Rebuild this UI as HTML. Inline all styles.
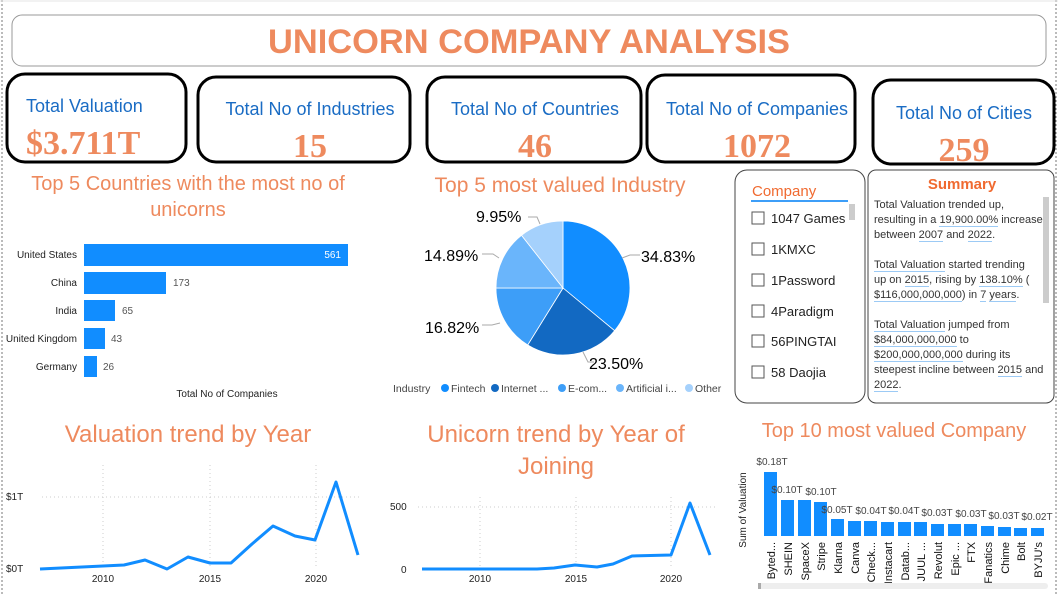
<!DOCTYPE html>
<html><head><meta charset="utf-8"><style>
body{margin:0;background:#fff;width:1058px;height:594px;overflow:hidden;position:relative;font-family:"Liberation Sans",sans-serif}
.abs{position:absolute}
.sum{left:874px;top:198px;width:170px;font-size:11px;line-height:15px;color:#333}
.sum div{height:15px;white-space:nowrap}
.u{border-bottom:1.5px solid #9ccaf5}
</style></head><body>
<svg class="abs" style="left:0;top:0" width="1058" height="594" viewBox="0 0 1058 594" font-family="Liberation Sans, sans-serif">
<line x1="2" y1="0" x2="2" y2="594" stroke="#777" stroke-dasharray="2,2"/>
<line x1="1056" y1="0" x2="1056" y2="594" stroke="#777" stroke-dasharray="2,2"/>
<line x1="0" y1="1" x2="1058" y2="1" stroke="#e6e6e6"/>
<rect x="12" y="15" width="1034" height="51" rx="10" fill="#fff" stroke="#999"/>
<text x="529" y="53" text-anchor="middle" font-size="34" font-weight="bold" fill="#EE8A5E" textLength="522" lengthAdjust="spacingAndGlyphs">UNICORN COMPANY ANALYSIS</text>
<g fill="#fff" stroke="#000" stroke-width="3">
<rect x="7" y="74" width="179" height="88" rx="18"/>
<rect x="198" y="77" width="212" height="85" rx="18"/>
<rect x="427" y="77" width="214" height="85" rx="18"/>
<rect x="647" y="75" width="208" height="87" rx="18"/>
<rect x="873" y="80" width="181" height="84" rx="18"/>
</g>
<g font-size="18" fill="#1A6CC4">
<text x="26" y="112">Total Valuation</text>
<text x="310" y="115" text-anchor="middle">Total No of Industries</text>
<text x="535" y="115" text-anchor="middle">Total No of Countries</text>
<text x="757" y="115" text-anchor="middle">Total No of Companies</text>
<text x="964" y="119" text-anchor="middle">Total No of Cities</text>
</g>
<g font-size="34" fill="#EE8A5E" font-family="Liberation Serif, serif" font-weight="bold">
<text x="26" y="154">$3.711T</text>
<text x="310" y="157" text-anchor="middle">15</text>
<text x="535" y="157" text-anchor="middle">46</text>
<text x="757" y="157" text-anchor="middle">1072</text>
<text x="964" y="161" text-anchor="middle">259</text>
</g>
<g font-size="20" fill="#EE8A5E" text-anchor="middle">
<text x="188" y="190">Top 5 Countries with the most no of</text>
<text x="188" y="216">unicorns</text>
<text x="560" y="192" font-size="21">Top 5 most valued Industry</text>
<text x="188" y="442" font-size="24">Valuation trend by Year</text>
<text x="556" y="442" font-size="24">Unicorn trend by Year of</text>
<text x="556" y="474" font-size="24">Joining</text>
<text x="894" y="437">Top 10 most valued Company</text>
</g>
<g fill="#118DFF">
<rect x="84" y="244" width="264" height="22"/>
<rect x="84" y="272" width="82" height="22"/>
<rect x="84" y="300" width="31" height="21"/>
<rect x="84" y="328" width="21" height="21"/>
<rect x="84" y="356" width="13" height="21"/>
</g>
<g font-size="10" fill="#222" text-anchor="end">
<text x="77" y="258">United States</text><text x="77" y="286">China</text><text x="77" y="314">India</text><text x="77" y="342">United Kingdom</text><text x="77" y="370">Germany</text>
</g>
<text x="341" y="258" font-size="10" fill="#fff" text-anchor="end">561</text>
<g font-size="10" fill="#555"><text x="173" y="286">173</text><text x="122" y="314">65</text><text x="111" y="342">43</text><text x="103" y="370">26</text></g>
<text x="227" y="397" font-size="10" fill="#222" text-anchor="middle">Total No of Companies</text>
<g stroke="#fff" stroke-width="0.8">
<path d="M563,288 L563,221 A67,67 0 0 1 614.6,330.7 Z" fill="#118DFF"/>
<path d="M563,288 L614.6,330.7 A67,67 0 0 1 527.7,345 Z" fill="#1269C2"/>
<path d="M563,288 L527.7,345 A67,67 0 0 1 496,288 Z" fill="#3D9EF8"/>
<path d="M563,288 L496,288 A67,67 0 0 1 521.5,235.3 Z" fill="#6AB5FB"/>
<path d="M563,288 L521.5,235.3 A67,67 0 0 1 563,221 Z" fill="#A5D1FC"/>
</g>
<g stroke="#aaa" fill="none"><path d="M622,258 L630,255 L640,255"/><path d="M583,352 L588,362 L594,362"/><path d="M500,323 L492,325 L482,325"/><path d="M499,258 L493,254 L482,254"/><path d="M540,224 L537,217 L528,217"/></g>
<g font-size="16" fill="#000">
<text x="641" y="262">34.83%</text><text x="589" y="369">23.50%</text><text x="425" y="333">16.82%</text><text x="424" y="261">14.89%</text><text x="476" y="222">9.95%</text>
</g>
<g font-size="10.5" fill="#444">
<text x="393" y="392">Industry</text>
<circle cx="445" cy="388" r="4" fill="#118DFF"/><text x="451" y="392">Fintech</text>
<circle cx="495" cy="388" r="4" fill="#1269C2"/><text x="501" y="392">Internet ...</text>
<circle cx="562" cy="388" r="4" fill="#3D9EF8"/><text x="568" y="392">E-com...</text>
<circle cx="620" cy="388" r="4" fill="#6AB5FB"/><text x="626" y="392">Artificial i...</text>
<circle cx="689" cy="388" r="4" fill="#A5D1FC"/><text x="695" y="392">Other</text>
</g>
<rect x="735" y="170" width="130" height="233" rx="12" fill="#fff" stroke="#444"/>
<rect x="868" y="170" width="186" height="233" rx="8" fill="#fff" stroke="#444"/>
<text x="752" y="196" font-size="15" fill="#F06A30">Company</text>
<line x1="751" y1="201" x2="848" y2="201" stroke="#3D9EF8" stroke-width="2"/>
<rect x="849" y="204" width="6" height="16" fill="#ccc"/>
<g fill="#fff" stroke="#555"><rect x="752" y="212" width="12" height="12"/><rect x="752" y="243" width="12" height="12"/><rect x="752" y="274" width="12" height="12"/><rect x="752" y="305" width="12" height="12"/><rect x="752" y="335" width="12" height="12"/><rect x="752" y="366" width="12" height="12"/></g>
<g font-size="13" fill="#222"><text x="771" y="223">1047 Games</text><text x="771" y="254">1KMXC</text><text x="771" y="285">1Password</text><text x="771" y="316">4Paradigm</text><text x="771" y="346">56PINGTAI</text><text x="771" y="377">58 Daojia</text></g>
<text x="962" y="189" font-size="15" font-weight="bold" fill="#F06A30" text-anchor="middle">Summary</text>
<rect x="1043" y="197" width="6" height="106" fill="#ccc"/>
<g stroke="#ccc" stroke-dasharray="1,3"><line x1="42" y1="497" x2="360" y2="497"/><line x1="103" y1="465" x2="103" y2="568"/><line x1="210" y1="465" x2="210" y2="568"/><line x1="316" y1="465" x2="316" y2="568"/>
<line x1="418" y1="507" x2="718" y2="507"/><line x1="480" y1="497" x2="480" y2="569"/><line x1="576" y1="497" x2="576" y2="569"/><line x1="671" y1="497" x2="671" y2="569"/></g>
<g font-size="10" fill="#222">
<text x="6" y="500">$1T</text><text x="6" y="572">$0T</text>
<text x="103" y="582" text-anchor="middle">2010</text><text x="210" y="582" text-anchor="middle">2015</text><text x="316" y="582" text-anchor="middle">2020</text>
<text x="390" y="510">500</text><text x="401" y="573">0</text>
<text x="480" y="582" text-anchor="middle">2010</text><text x="576" y="582" text-anchor="middle">2015</text><text x="671" y="582" text-anchor="middle">2020</text>
</g>
<polyline fill="none" stroke="#118DFF" stroke-width="3" stroke-linejoin="round" points="40,569 124,565 145,560 167,569 188,557 210,563 231,563 252,544 273,526 295,536 315,540 336,482 358,555"/>
<polyline fill="none" stroke="#118DFF" stroke-width="3" stroke-linejoin="round" points="422,569 537,569 554,568 575,565 597,567 613,564 632,556 671,555 690,503 710,555"/>
<g fill="#118DFF">
<rect x="764" y="472" width="13" height="64"/><rect x="781" y="500" width="13" height="36"/><rect x="798" y="500" width="13" height="36"/><rect x="814" y="502" width="13" height="34"/><rect x="831" y="519" width="13" height="17"/><rect x="848" y="521" width="13" height="15"/><rect x="864" y="521" width="13" height="15"/><rect x="881" y="522" width="13" height="14"/><rect x="898" y="522" width="13" height="14"/><rect x="914" y="522" width="13" height="14"/><rect x="931" y="524" width="13" height="12"/><rect x="948" y="524" width="13" height="12"/><rect x="964" y="524" width="13" height="12"/><rect x="981" y="526" width="13" height="10"/><rect x="998" y="527" width="13" height="9"/><rect x="1014" y="528" width="13" height="8"/><rect x="1031" y="528" width="13" height="8"/>
</g>
<g font-size="10" fill="#444" text-anchor="middle">
<text x="772" y="465">$0.18T</text><text x="787" y="493">$0.10T</text><text x="821" y="495">$0.10T</text><text x="837" y="513">$0.05T</text><text x="871" y="514">$0.04T</text><text x="904" y="514">$0.04T</text><text x="937" y="516">$0.03T</text><text x="971" y="517">$0.03T</text><text x="1004" y="519">$0.03T</text><text x="1037" y="520">$0.02T</text>
</g>
<text transform="translate(746,510) rotate(-90)" font-size="10" fill="#222" text-anchor="middle">Sum of Valuation</text>
<g font-size="11" fill="#111" text-anchor="end">
<text transform="translate(775,542) rotate(-90)">Byted...</text><text transform="translate(792,542) rotate(-90)">SHEIN</text><text transform="translate(809,542) rotate(-90)">SpaceX</text><text transform="translate(825,542) rotate(-90)">Stripe</text><text transform="translate(842,542) rotate(-90)">Klarna</text><text transform="translate(859,542) rotate(-90)">Canva</text><text transform="translate(875,542) rotate(-90)">Check...</text><text transform="translate(892,542) rotate(-90)">Instacart</text><text transform="translate(909,542) rotate(-90)">Datab...</text><text transform="translate(925,542) rotate(-90)">JUUL ...</text><text transform="translate(942,542) rotate(-90)">Revolut</text><text transform="translate(959,542) rotate(-90)">Epic ...</text><text transform="translate(975,542) rotate(-90)">FTX</text><text transform="translate(992,542) rotate(-90)">Fanatics</text><text transform="translate(1009,542) rotate(-90)">Chime</text><text transform="translate(1025,542) rotate(-90)">Bolt</text><text transform="translate(1042,542) rotate(-90)">BYJU's</text>
</g>
<rect x="758" y="583" width="290" height="6" rx="3" fill="#eee"/><rect x="758" y="583" width="3" height="6" fill="#aaa"/>
</svg>
<div class="abs sum">
<div>Total Valuation trended up,</div>
<div>resulting in a <span class="u">19,900.00%</span> increase</div>
<div>between <span class="u">2007</span> and <span class="u">2022</span>.</div>
<div></div>
<div><span class="u">Total Valuation</span> started trending</div>
<div>up on <span class="u">2015</span>, rising by <span class="u">138.10%</span> (</div>
<div><span class="u">$116,000,000,000</span>) in <span class="u">7</span> <span class="u">years</span>.</div>
<div></div>
<div><span class="u">Total Valuation</span> jumped from</div>
<div><span class="u">$84,000,000,000</span> to</div>
<div><span class="u">$200,000,000,000</span> during its</div>
<div>steepest incline between <span class="u">2015</span> and</div>
<div><span class="u">2022</span>.</div>
</div>
</body></html>
